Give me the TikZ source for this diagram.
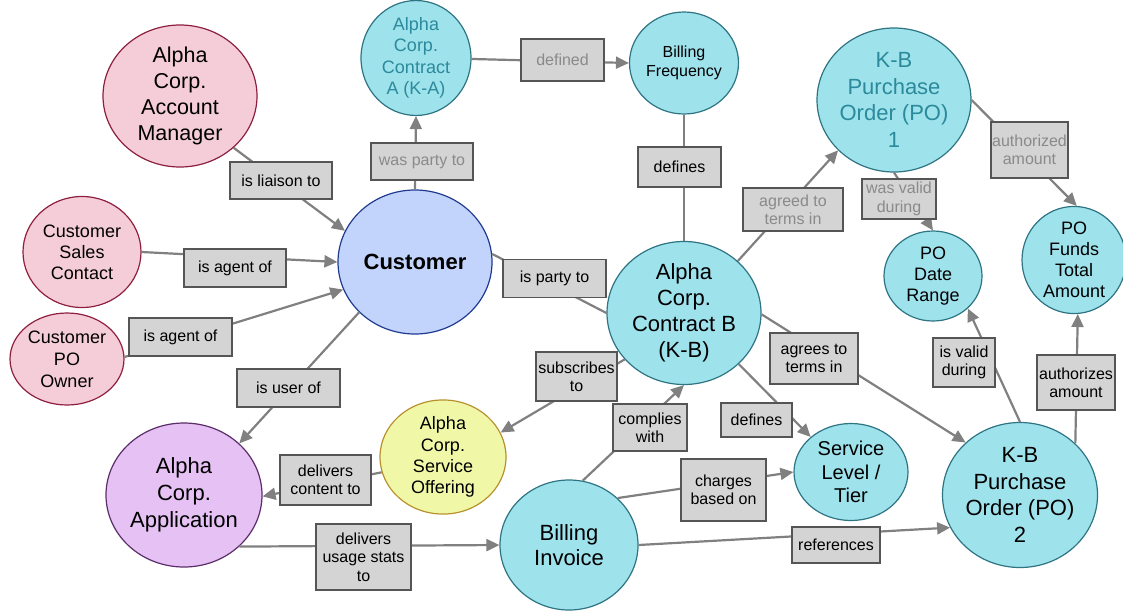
\documentclass[tikz,border=0pt]{standalone}
\usepackage{fontspec}
\setmainfont{Liberation Sans}
\usetikzlibrary{shapes.geometric,arrows.meta}
\definecolor{pinkf}{HTML}{F4CDD9}
\definecolor{pinkd}{HTML}{8E1F3F}
\definecolor{custf}{HTML}{C2D4FC}
\definecolor{custd}{HTML}{1F3B8F}
\definecolor{cyanf}{HTML}{9EE2EC}
\definecolor{cyand}{HTML}{2E7483}
\definecolor{yelf}{HTML}{F0F8A8}
\definecolor{yeld}{HTML}{B8912F}
\definecolor{purf}{HTML}{E6C1F3}
\definecolor{purd}{HTML}{5B2D6B}
\definecolor{tealtx}{HTML}{2B8A9B}
\definecolor{lblf}{HTML}{D4D4D4}
\definecolor{lbld}{HTML}{555555}
\definecolor{lbltx}{HTML}{8A8A8A}
\definecolor{edgec}{HTML}{808080}
\tikzset{
  ent/.style={ellipse, inner sep=0pt, line width=1.2pt, align=center},
  pinkent/.style={ent, draw=pinkd, fill=pinkf},
  custent/.style={ent, draw=custd, fill=custf},
  cyanent/.style={ent, draw=cyand, fill=cyanf},
  yelent/.style={ent, draw=yeld, fill=yelf},
  purent/.style={ent, draw=purd, fill=purf},
  lbl/.style={rectangle, draw=lbld, fill=lblf, line width=1.2pt, inner sep=0pt, align=center, font=\fontsize{16}{18.4}\selectfont},
  oldlbl/.style={lbl, text=lbltx},
  rel/.style={draw=edgec, line width=2.2pt},
  arr/.style={rel, -{Triangle[length=13pt,width=12pt]}},
  fA/.style={font=\fontsize{22}{26}\selectfont},
  fB/.style={font=\fontsize{18}{21.3}\selectfont},
}
\begin{document}
\begin{tikzpicture}[x=1pt,y=-1pt]
\useasboundingbox (0,0) rectangle (1123,611);
% entities
\node[pinkent, font=\fontsize{21.5}{26}\selectfont, minimum width=154pt, minimum height=142pt] (am) at (180,96) {Alpha\\Corp.\\Account\\Manager};
\node[pinkent, font=\fontsize{18}{21}\selectfont, minimum width=118pt, minimum height=111pt] (sales) at (82,252) {Customer\\Sales\\Contact};
\node[pinkent, font=\fontsize{18}{22}\selectfont, minimum width=114pt, minimum height=92pt] (poown) at (67,359) {Customer\\PO\\Owner};
\node[custent, font=\fontsize{22}{26}\selectfont\bfseries, minimum width=154pt, minimum height=144pt] (cust) at (415,262) {Customer};
\node[cyanent, text=tealtx, font=\fontsize{18}{21.5}\selectfont, minimum width=110pt, minimum height=108pt] (ka) at (416,58) {Alpha\\Corp.\\Contract\\A (K-A)};
\node[cyanent, font=\fontsize{16}{18.5}\selectfont, minimum width=109pt, minimum height=102pt] (bf) at (684,63) {Billing\\Frequency};
\node[cyanent, fA, minimum width=154pt, minimum height=143pt] (cb) at (684,313) {Alpha\\Corp.\\Contract B\\(K-B)};
\node[cyanent, text=tealtx, font=\fontsize{22}{26.5}\selectfont, minimum width=154pt, minimum height=144pt] (po1) at (894,100) {K-B\\Purchase\\Order (PO)\\1};
\node[cyanent, font=\fontsize{18}{21}\selectfont, minimum width=98pt, minimum height=90pt] (dr) at (933,276) {PO\\Date\\Range};
\node[cyanent, font=\fontsize{18}{21}\selectfont, minimum width=104pt, minimum height=105pt] (funds) at (1074,260) {PO\\Funds\\Total\\Amount};
\node[cyanent, font=\fontsize{22}{26.5}\selectfont, minimum width=155pt, minimum height=145pt] (po2) at (1020,495) {K-B\\Purchase\\Order (PO)\\2};
\node[cyanent, font=\fontsize{20}{23.5}\selectfont, minimum width=114pt, minimum height=97pt] (sl) at (851,472) {Service\\Level /\\Tier};
\node[cyanent, font=\fontsize{22}{25}\selectfont, minimum width=138pt, minimum height=130pt] (bi) at (569,545) {Billing\\Invoice};
\node[yelent, fB, minimum width=126pt, minimum height=114pt] (so) at (443,457) {Alpha\\Corp.\\Service\\Offering};
\node[purent, font=\fontsize{22}{27}\selectfont, minimum width=156pt, minimum height=144pt] (app) at (184,495) {Alpha\\Corp.\\Application};
% connectors
\draw[arr] (am.-44.5) -- (cust.156);
\draw[arr] (sales.0) -- (cust.180);
\draw[arr] (poown.2) -- (cust.201);
\draw[arr] (cust.90) -- (ka.-90);
\draw[arr] (ka.-1) -- (bf.180);
\draw[rel] (bf.-90) -- (cb.90);
\draw[rel] (cust.6) -- (cb.180);
\draw[arr] (cb.44) -- (po1.222);
\draw[arr] (po1.-90) -- (dr.90);
\draw[arr] (po1.0) -- (funds.87);
\draw[arr] (cust.222) -- (app.43);
\draw[arr] (so.194) -- (app.-1.5);
\draw[arr] (app.-43) -- (bi.180);
\draw[arr] (cb.218) -- (so.23);
\draw[arr] (bi.78) -- (cb.-90);
\draw[arr] (cb.-43) -- (sl.139.5);
\draw[arr] (cb.-1) -- (po2.136.6);
\draw[arr] (bi.44) -- (sl.180);
\draw[arr] (bi.0) -- (po2.205);
\draw[arr] (po2.90) -- (dr.-43);
\draw[arr] (po2.43) -- (funds.-86);
% labels
\node[lbl, minimum width=102pt, minimum height=37pt] (l1) at (281,180.5) {is liaison to};
\node[lbl, minimum width=102pt, minimum height=38pt] (l2) at (235,268) {is agent of};
\node[lbl, minimum width=103pt, minimum height=38pt] (l3) at (180.5,337) {is agent of};
\node[oldlbl, minimum width=102pt, minimum height=37pt] (l4) at (422,161.5) {was party to};
\node[oldlbl, minimum width=83pt, minimum height=42pt] (l5) at (562.5,60) {defined};
\node[lbl, minimum width=83pt, minimum height=40pt] (l6) at (679.5,167) {defines};
\node[lbl, minimum width=103pt, minimum height=38pt] (l7) at (554.5,278.5) {is party to};
\node[oldlbl, minimum width=100pt, minimum height=43pt] (l8) at (793,209.5) {agreed to\\terms in};
\node[oldlbl, minimum width=74pt, minimum height=40pt] (l9) at (899,199) {was valid\\during};
\node[oldlbl, minimum width=77pt, minimum height=56pt] (l10) at (1029.5,150) {authorized\\amount};
\node[lbl, minimum width=103pt, minimum height=38pt] (l11) at (288.5,388) {is user of};
\node[lbl, minimum width=91pt, minimum height=50pt] (l12) at (325.5,480) {delivers\\content to};
\node[lbl, minimum width=95pt, minimum height=66pt] (l13) at (363.5,557) {delivers\\usage stats\\to};
\node[lbl, minimum width=81pt, minimum height=49pt] (l14) at (576.5,376.5) {subscribes\\to};
\node[lbl, minimum width=74pt, minimum height=47pt] (l15) at (650,427.5) {complies\\with};
\node[lbl, minimum width=71pt, minimum height=34pt] (l16) at (756.5,420) {defines};
\node[lbl, minimum width=88pt, minimum height=51pt] (l17) at (814,358.5) {agrees to\\terms in};
\node[lbl, minimum width=85pt, minimum height=62pt] (l18) at (723.5,490) {charges\\based on};
\node[lbl, minimum width=88pt, minimum height=36pt] (l19) at (836,545) {references};
\node[lbl, minimum width=62pt, minimum height=49pt] (l20) at (964,362.5) {is valid\\during};
\node[lbl, minimum width=78pt, minimum height=55pt] (l21) at (1076,382.5) {authorizes\\amount};
\end{tikzpicture}
\end{document}
